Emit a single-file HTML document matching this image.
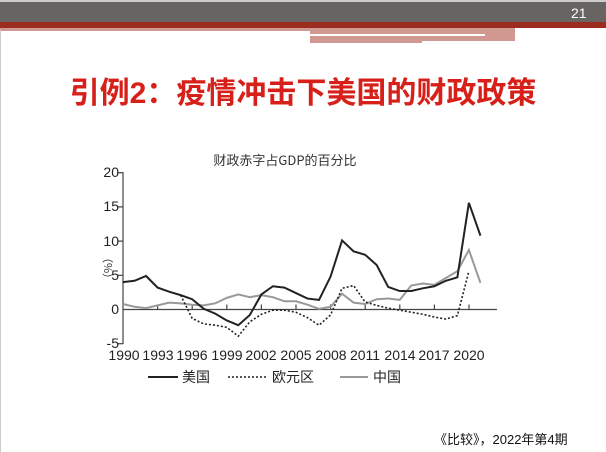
<!DOCTYPE html>
<html><head><meta charset="utf-8"><style>
html,body{margin:0;padding:0;background:#fff}
body{width:606px;height:452px;overflow:hidden;position:relative;font-family:"Liberation Sans","Noto Sans CJK SC",sans-serif}
</style></head><body>
<svg width="606" height="452" xmlns="http://www.w3.org/2000/svg" style="position:absolute;left:0;top:0">
<rect x="0" y="0" width="606" height="452" fill="#fff"/>
<rect x="0" y="0" width="606" height="2" fill="#ccc"/>
<rect x="0" y="2" width="606" height="20" fill="#686461"/>
<rect x="0" y="22" width="606" height="6" fill="#9b2d20"/>
<rect x="0" y="28" width="310" height="3" fill="#d09890"/>
<rect x="310" y="28" width="205" height="15" fill="#d09890"/>
<rect x="310" y="34" width="175" height="2" fill="#fff"/>
<rect x="422" y="41" width="93" height="2" fill="#fff"/>
<rect x="0" y="30" width="1" height="422" fill="#ccc"/>
<text x="571" y="18" font-size="14" fill="#fff" font-family="Liberation Sans,sans-serif">21</text>
<text x="303" y="103" font-size="30" font-weight="bold" fill="#d8201a" text-anchor="middle" font-family="Liberation Sans,Noto Sans CJK SC,sans-serif">引例2：疫情冲击下美国的财政政策</text>
<text x="285" y="165" font-size="13" fill="#333" text-anchor="middle" font-family="Noto Sans CJK SC,sans-serif">财政赤字占GDP的百分比</text>
<g stroke="#444" stroke-width="1.2" fill="none">
<line x1="123" y1="172" x2="123" y2="344"/>
<line x1="123" y1="309.5" x2="497" y2="309.5"/>
<line x1="118" y1="172.7" x2="123" y2="172.7"/>
<line x1="118" y1="206.9" x2="123" y2="206.9"/>
<line x1="118" y1="241.1" x2="123" y2="241.1"/>
<line x1="118" y1="275.3" x2="123" y2="275.3"/>
<line x1="118" y1="343.7" x2="123" y2="343.7"/>
<path d="M157.6 309.5v-5M192.2 309.5v-5M226.8 309.5v-5M261.4 309.5v-5M296 309.5v-5M330.6 309.5v-5M365.2 309.5v-5M399.8 309.5v-5M434.4 309.5v-5M469 309.5v-5"/>
</g>
<g font-size="14" fill="#222" text-anchor="end">
<text x="119" y="177">20</text><text x="119" y="211">15</text><text x="119" y="246">10</text><text x="119" y="280">5</text><text x="119" y="314">0</text><text x="119" y="348">-5</text>
</g>
<g font-size="14" fill="#222" text-anchor="middle">
<text x="124" y="360">1990</text><text x="158" y="360">1993</text><text x="192" y="360">1996</text><text x="227" y="360">1999</text><text x="261" y="360">2002</text><text x="296" y="360">2005</text><text x="331" y="360">2008</text><text x="365" y="360">2011</text><text x="400" y="360">2014</text><text x="434" y="360">2017</text><text x="469" y="360">2020</text>
</g>
<text x="104" y="252" font-size="11" fill="#333" transform="rotate(90 104 252)" font-family="Noto Sans CJK SC,sans-serif">（%）</text>
<g transform="translate(123,309.5) scale(11.53,-6.84)" fill="none">
<polyline vector-effect="non-scaling-stroke" stroke="#999" stroke-width="2" points="0,0.8 1,0.4 2,0.2 3,0.6 4,1 5,0.9 6,0.7 7,0.6 8,0.9 9,1.7 10,2.2 11,1.8 12,2.1 13,1.8 14,1.2 15,1.2 16,0.7 17,0.1 18,0.4 19,2.3 20,1 21,0.8 22,1.5 23,1.6 24,1.4 25,3.5 26,3.8 27,3.6 28,4.6 29,5.6 30,8.7 31,3.9"/>
<polyline vector-effect="non-scaling-stroke" stroke="#222" stroke-width="1.6" stroke-dasharray="2,2" points="5,2.1 6,-1.3 7,-2.1 8,-2.3 9,-2.6 10,-3.9 11,-1.8 12,-0.7 13,-0.1 14,-0.1 15,-0.4 16,-1.2 17,-2.3 18,-0.8 19,3.1 20,3.5 21,1.1 22,0.6 23,0.2 24,-0.1 25,-0.4 26,-0.7 27,-1.1 28,-1.4 29,-0.9 30,5.6"/>
<polyline vector-effect="non-scaling-stroke" stroke="#222" stroke-width="2" points="0,4 1,4.2 2,4.9 3,3.2 4,2.6 5,2.1 6,1.5 7,0.1 8,-0.6 9,-1.6 10,-2.3 11,-0.8 12,2.2 13,3.4 14,3.2 15,2.4 16,1.6 17,1.4 18,4.8 19,10.1 20,8.5 21,8 22,6.5 23,3.3 24,2.7 25,2.7 26,3.1 27,3.4 28,4.2 29,4.7 30,15.6 31,10.8"/>
</g>
<line x1="148" y1="377" x2="178" y2="377" stroke="#222" stroke-width="2"/>
<line x1="228" y1="377" x2="268" y2="377" stroke="#222" stroke-width="1.6" stroke-dasharray="2,2"/>
<line x1="340" y1="377" x2="368" y2="377" stroke="#999" stroke-width="2"/>
<g font-size="14" fill="#222" font-family="Noto Sans CJK SC,sans-serif">
<text x="182" y="382">美国</text><text x="272" y="382">欧元区</text><text x="373" y="382">中国</text>
</g>
<text x="434" y="444" font-size="13" fill="#111" font-family="Liberation Sans,Noto Sans CJK SC,sans-serif">《比较》，2022年第4期</text>
</svg>
</body></html>
